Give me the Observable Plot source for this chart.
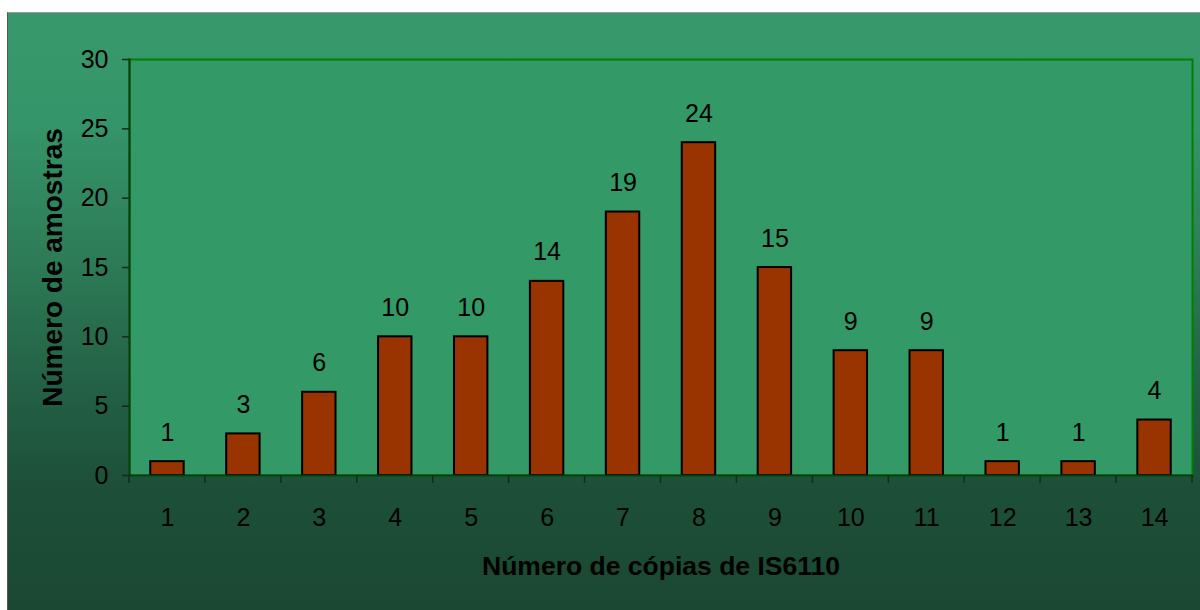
<!DOCTYPE html>
<html>
<head>
<meta charset="utf-8">
<script src="https://cdn.jsdelivr.net/npm/d3@7"></script>
<script src="https://cdn.jsdelivr.net/npm/@observablehq/plot@0.6"></script>
<style>
  html, body { margin: 0; padding: 0; background: #ffffff; width: 1200px; height: 610px; overflow: hidden; }
  #bg {
    position: absolute; left: 7px; top: 12px; width: 1193px; height: 598px;
    border-left: 1px solid #555; border-top: 1px solid #999;
    background: linear-gradient(to bottom, #37996b 0%, #35956a 18%, #2e7d58 40%, #236146 62%, #1d4f38 80%, #1b4832 100%);
  }
  #chart { position: absolute; left: 0; top: 0; }
</style>
</head>
<body>
<div id="bg"></div>
<div id="chart"></div>
<script>
const copies = [1, 2, 3, 4, 5, 6, 7, 8, 9, 10, 11, 12, 13, 14];
const samples = [1, 3, 6, 10, 10, 14, 19, 24, 15, 9, 9, 1, 1, 4];
const yTicks = [0, 5, 10, 15, 20, 25, 30];
const xTitle = "Número de cópias de IS6110";
const yTitle = "Número de amostras";

const data = copies.map((c, i) => ({copies: c, samples: samples[i]}));

const chart = Plot.plot({
  width: 1200,
  height: 610,
  marginLeft: 129,
  marginTop: 59,
  marginRight: 8,
  marginBottom: 135,
  style: {background: "transparent", fontFamily: "Liberation Sans, Arial, sans-serif", fontSize: "25px", color: "#000"},
  x: {type: "band", domain: copies, paddingInner: 0.56, paddingOuter: 0.28, align: 0.5, round: false},
  y: {domain: [0, 30]},
  marks: [
    Plot.frame({fill: "#339966", stroke: "#008000", strokeWidth: 2}),
    Plot.barY(data, {x: "copies", y: "samples", fill: "#993300", stroke: "#000", strokeWidth: 2}),
    Plot.text(data, {x: "copies", y: "samples", text: d => String(d.samples), dy: -29, lineAnchor: "middle", fontSize: 25, fill: "#000"}),
    Plot.frame({anchor: "left", stroke: "#0b3a12", strokeWidth: 2}),
    Plot.frame({anchor: "bottom", stroke: "#0b3a12", strokeWidth: 2}),
    Plot.axisY({ticks: yTicks, tickSize: 7, tickPadding: 14, fontSize: 25, stroke: "#1a2a1a", strokeWidth: 1.5, label: null}),
    Plot.axisX({tickSize: 0, tickPadding: 33, fontSize: 25, label: null}),
    Plot.text([yTitle], {frameAnchor: "left", dx: -76, rotate: -90, textAnchor: "middle", lineAnchor: "middle", fontSize: 28, fontWeight: "bold", fill: "#000"}),
    Plot.text([xTitle], {frameAnchor: "bottom", dy: 91, textAnchor: "middle", lineAnchor: "middle", fontSize: 26.5, fontWeight: "bold", fill: "#000"})
  ]
});

// category-boundary ticks on the x axis, placed with the plot's own x scale
const sx = chart.scale("x");
const sy = chart.scale("y");
const y0 = sy.apply(0);
const bounds = copies.map(c => sx.apply(c) - (sx.step - sx.bandwidth) / 2);
bounds.push(sx.apply(copies[copies.length - 1]) + sx.bandwidth + (sx.step - sx.bandwidth) / 2);
const g = d3.select(chart).append("g").attr("stroke", "#1a2a1a").attr("stroke-width", 1.5);
bounds.forEach(bx => {
  g.append("line").attr("x1", bx).attr("x2", bx).attr("y1", y0).attr("y2", y0 + 8);
});

document.getElementById("chart").appendChild(chart);
</script>
</body>
</html>
